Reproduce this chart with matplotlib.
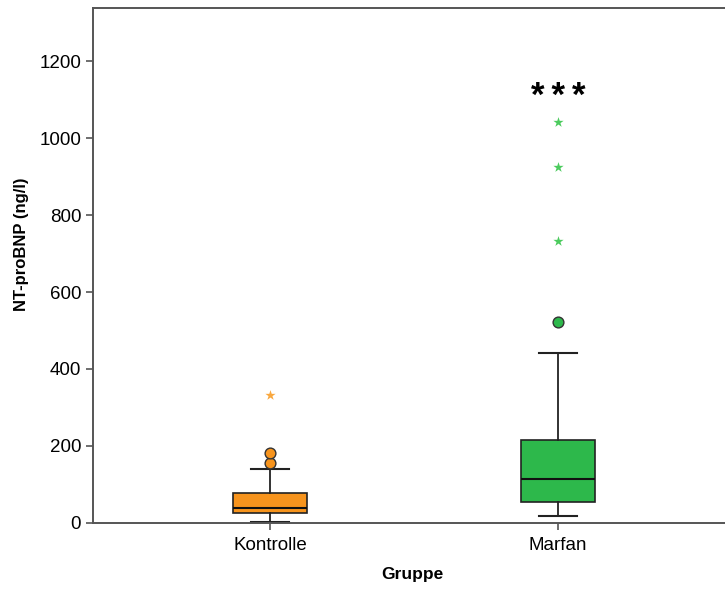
import matplotlib.pyplot as plt

plt.rcParams['font.family'] = ['Liberation Sans', 'DejaVu Sans']

# box statistics (ng/l)
gruppen = ['Kontrolle', 'Marfan']
q1 = [27, 55]
median = [39, 114]
q3 = [78, 216]
whisker_lo = [2, 18]
whisker_hi = [140, 442]
ausreisser = [[156, 181], [522]]       # circles
extremwerte = [[332], [732, 925, 1041]]  # stars
farben = ['#F7941D', '#2DB84B']
stern_farben = ['#F9A840', '#4CCB5E']

fig = plt.figure(figsize=(7.25, 5.92), dpi=100)
ax = fig.add_axes([0.1283, 0.1166, 0.8717, 0.87])

stats = []
for i in range(len(gruppen)):
    stats.append({'label': gruppen[i], 'q1': q1[i], 'med': median[i], 'q3': q3[i],
                  'whislo': whisker_lo[i], 'whishi': whisker_hi[i], 'fliers': []})

pos = [1, 2]
bp = ax.bxp(stats, positions=pos, widths=0.255, patch_artist=True, showfliers=False,
            boxprops=dict(edgecolor='#222222', linewidth=1.2),
            medianprops=dict(color='#111111', linewidth=1.5),
            whiskerprops=dict(color='#222222', linewidth=1.3),
            capprops=dict(color='#222222', linewidth=1.5), capwidths=0.13)
for box, c in zip(bp['boxes'], farben):
    box.set_facecolor(c)

for i in range(len(gruppen)):
    ax.scatter([pos[i]] * len(ausreisser[i]), ausreisser[i], s=60, color=farben[i],
               edgecolor='#333333', linewidth=1.0, zorder=3)
    ax.scatter([pos[i]] * len(extremwerte[i]), extremwerte[i], s=60, marker='*',
               color=stern_farben[i], linewidth=0, zorder=3)

ax.text(2, 1108, '*\u2009*\u2009*', ha='center', va='center', fontsize=25, fontweight='bold')

ax.set_xlim(0.385, 2.58)
ax.set_ylim(0, 1338)
ax.set_yticks([0, 200, 400, 600, 800, 1000, 1200])
ax.set_xticks(pos)
ax.set_xticklabels(gruppen)
ax.tick_params(axis='both', labelsize=13.5, length=5, width=1.2, color='#555555')
ax.tick_params(axis='x', pad=5)
ax.spines['right'].set_visible(False)
for s in ['left', 'bottom', 'top']:
    ax.spines[s].set_color('#555555')
    ax.spines[s].set_linewidth(1.4)

ax.set_ylabel('NT-proBNP (ng/l)', fontsize=12, fontweight='bold')
ax.set_xlabel('Gruppe', fontsize=12.5, fontweight='bold')
ax.yaxis.set_label_coords(-0.102, 0.542)
ax.xaxis.set_label_coords(0.506, -0.085)

fig.savefig('out.png', dpi=100)
